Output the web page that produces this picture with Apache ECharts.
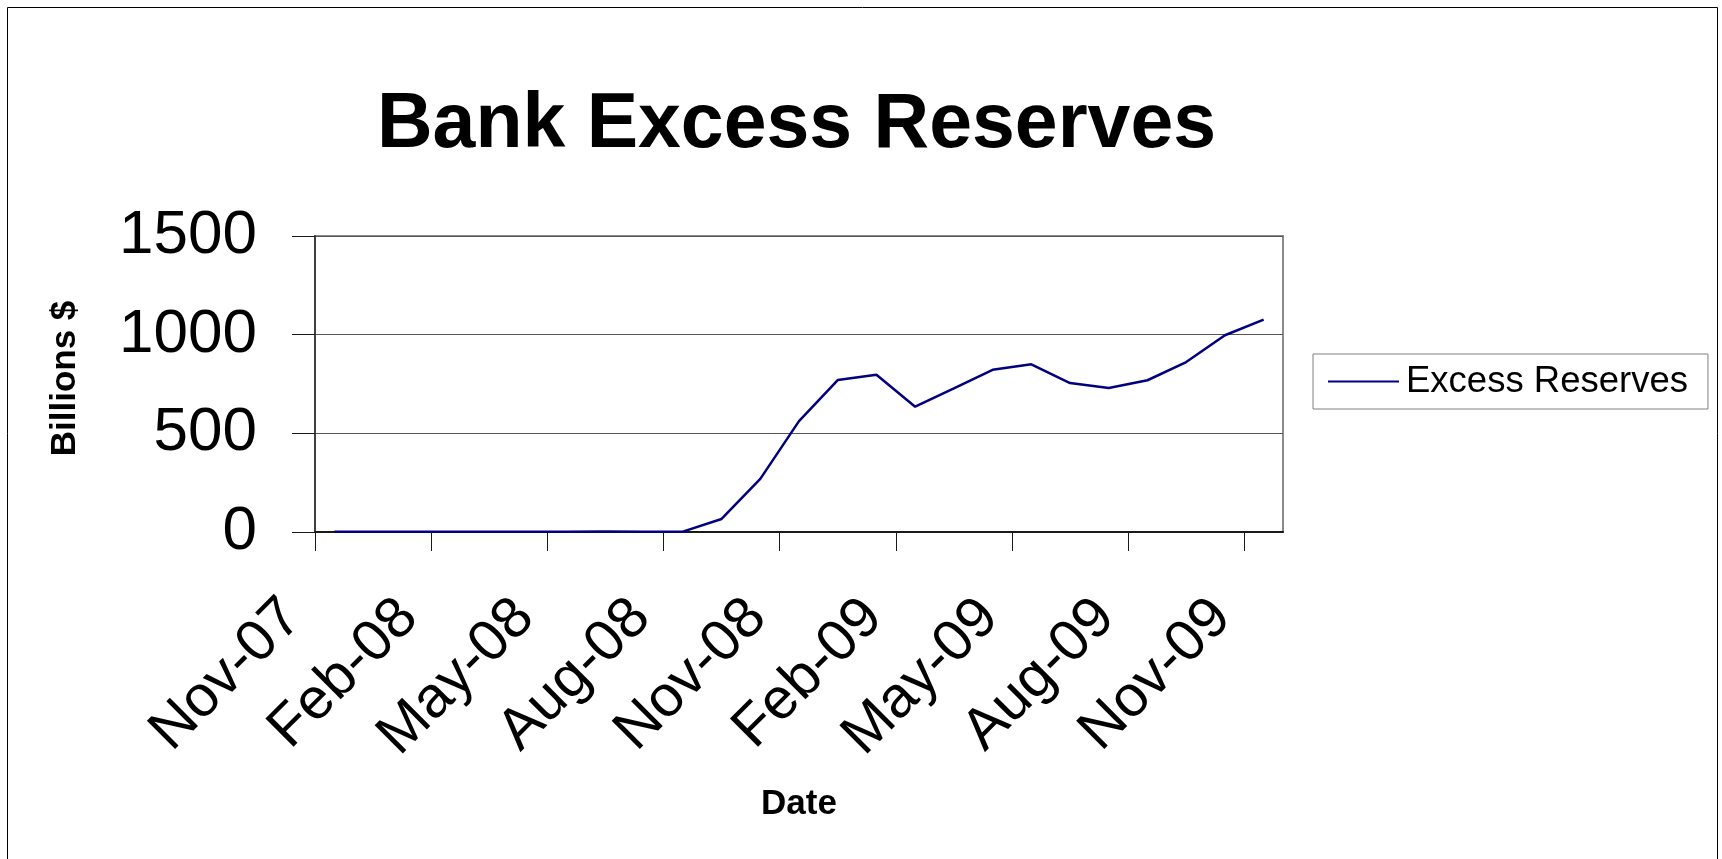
<!DOCTYPE html>
<html>
<head>
<meta charset="utf-8">
<script src="https://cdn.jsdelivr.net/npm/echarts@6/dist/echarts.min.js"></script>
<style>
  html, body { margin: 0; padding: 0; background: #ffffff; }
  #chart { width: 1722px; height: 859px; }
</style>
</head>
<body>
<div id="chart"></div>
<script>
// ---- Data ----
const categories = ['Nov-07','Dec-07','Jan-08','Feb-08','Mar-08','Apr-08','May-08','Jun-08','Jul-08','Aug-08',
                    'Sep-08','Oct-08','Nov-08','Dec-08','Jan-09','Feb-09','Mar-09','Apr-09','May-09','Jun-09',
                    'Jul-09','Aug-09','Sep-09','Oct-09','Nov-09'];
const excessReserves = [1.8, 1.6, 1.6, 1.6, 1.7, 1.8, 1.9, 2.0, 1.9, 1.9,
                        66, 269, 562, 770, 797, 635, 728, 822, 850, 755,
                        730, 769, 861, 997, 1076];
const seriesName = 'Excess Reserves';
const yTickValues = [0, 500, 1000, 1500];
const titleText = 'Bank Excess Reserves';
const xAxisName = 'Date';
const yAxisName = 'Billions $';

// boundaries between monthly categories (used only to place tick marks between months)
const monthBoundaries = categories.concat(['']).map(function () { return ''; });

const FONT = 'Liberation Sans';
const chart = echarts.init(document.getElementById('chart'), null, { renderer: 'canvas' });

const option = {
  backgroundColor: '#ffffff',
  animation: false,
  title: {
    text: titleText,
    left: 372,
    top: 82,
    textStyle: { fontFamily: FONT, fontSize: 77, fontWeight: 'bold', color: '#000000' }
  },
  graphic: [{
    type: 'rect',
    shape: { x: 7.5, y: 7.5, width: 1710, height: 900 },
    style: { fill: 'none', stroke: '#000000', lineWidth: 1 },
    silent: true
  }],
  legend: {
    data: [seriesName],
    left: 1313,
    top: 354,
    orient: 'vertical',
    icon: 'rect',
    itemWidth: 71,
    itemHeight: 2,
    padding: [9, 20, 9, 15],
    borderColor: '#808080',
    borderWidth: 1,
    textStyle: { fontFamily: FONT, fontSize: 36.5, color: '#000000', padding: [0, 0, 0, 2] }
  },
  grid: {
    left: 315,
    right: 439,
    top: 236,
    bottom: 327,
    show: true,
    borderColor: '#8a8a8a',
    borderWidth: 2,
    backgroundColor: '#ffffff'
  },
  xAxis: [{
    type: 'category',
    data: categories,
    boundaryGap: true,
    position: 'bottom',
    name: xAxisName,
    nameLocation: 'middle',
    nameGap: 255,
    nameTextStyle: { fontFamily: FONT, fontSize: 35, fontWeight: 'bold', color: '#000000' },
    axisLine: { show: true, lineStyle: { color: '#1a1a1a', width: 2 } },
    axisTick: { show: false },
    axisLabel: {
      interval: 2,
      rotate: 45,
      margin: 35,
      padding: [0, 59, 0, 0],
      fontFamily: FONT,
      fontSize: 58,
      color: '#000000'
    },
    splitLine: { show: false }
  }, {
    type: 'category',
    data: monthBoundaries,
    boundaryGap: false,
    position: 'bottom',
    offset: 0,
    axisLine: { show: false },
    axisTick: { show: true, interval: 2, length: 19, lineStyle: { color: '#1a1a1a', width: 1 } },
    axisLabel: { show: false },
    splitLine: { show: false }
  }],
  yAxis: {
    type: 'value',
    min: yTickValues[0],
    max: yTickValues[yTickValues.length - 1],
    interval: yTickValues[1] - yTickValues[0],
    name: yAxisName,
    nameLocation: 'middle',
    nameGap: 232,
    nameRotate: 90,
    nameTextStyle: { fontFamily: FONT, fontSize: 35, fontWeight: 'bold', color: '#000000', padding: [0, 0, 0, 11] },
    axisLine: { show: true, lineStyle: { color: '#404040', width: 2 } },
    axisTick: { show: true, length: 23, lineStyle: { color: '#1a1a1a', width: 1 } },
    axisLabel: {
      margin: 58,
      padding: [14, 0, 0, 0],
      fontFamily: FONT,
      fontSize: 62,
      color: '#000000',
      formatter: function (v) { return String(v); }
    },
    splitLine: { show: true, lineStyle: { color: '#555555', width: 1 } }
  },
  series: [{
    name: seriesName,
    type: 'line',
    xAxisIndex: 0,
    data: excessReserves,
    symbol: 'none',
    showSymbol: false,
    lineStyle: { color: '#000080', width: 2.5 },
    itemStyle: { color: '#000080' }
  }]
};

chart.setOption(option);
</script>
</body>
</html>
